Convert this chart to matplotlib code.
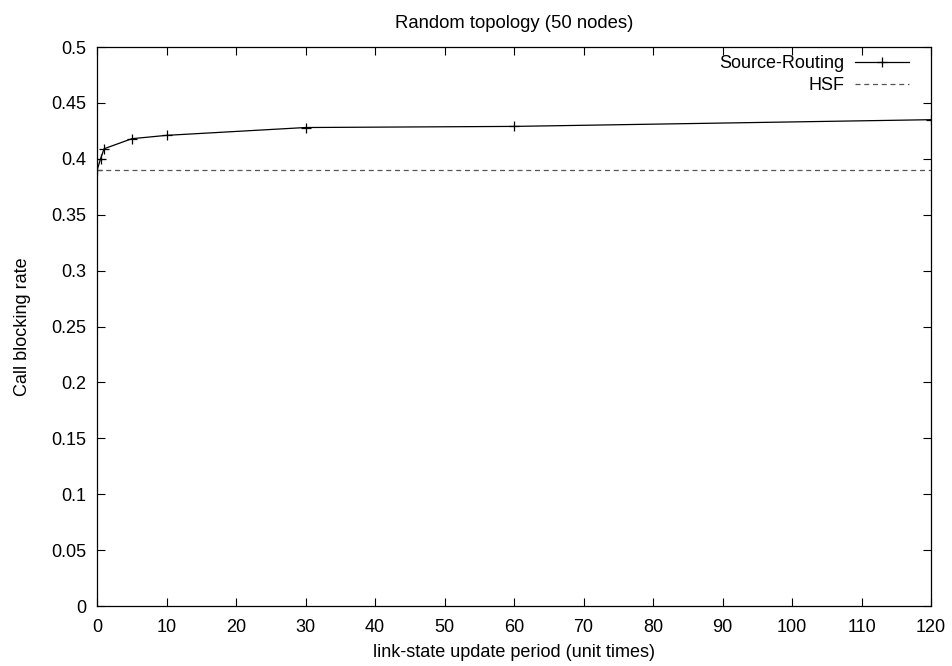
import matplotlib
matplotlib.use('Agg')
import matplotlib.pyplot as plt

plt.rcParams['font.family'] = ['Liberation Sans', 'DejaVu Sans']
plt.rcParams['font.size'] = 13

# link-state update period vs blocking rate
periods = [0, 0.5, 1, 5, 10, 30, 60, 120]
source_routing = [0.390, 0.400, 0.409, 0.418, 0.421, 0.428, 0.429, 0.435]
hsf_rate = 0.390

fig = plt.figure(figsize=(9.52, 6.66), dpi=100)
ax = fig.add_axes([0.102, 0.09, 0.876, 0.8394])

ax.plot(periods, source_routing, color='black', linewidth=0.9, marker='+',
        markersize=7, markeredgewidth=0.9, label='Source-Routing')
ax.axhline(hsf_rate, color='#555555', linewidth=0.9, linestyle=(0, (4, 3)), label='HSF')

ax.set_xlim(0, 120)
ax.set_ylim(0, 0.5)
ax.set_xticks(range(0, 121, 10))
ax.set_yticks([i * 0.05 for i in range(11)])
ax.set_yticklabels(['0', '0.05', '0.1', '0.15', '0.2', '0.25', '0.3', '0.35', '0.4', '0.45', '0.5'])
ax.tick_params(direction='in', top=True, right=True, length=6, width=0.8)
ax.tick_params(axis='x', pad=9)
ax.tick_params(axis='y', pad=8)
for s in ax.spines.values():
    s.set_linewidth(0.9)

ax.set_title('Random topology (50 nodes)', fontsize=13.3, pad=13.5)
ax.set_xlabel('link-state update period (unit times)', labelpad=6)
ax.set_ylabel('Call blocking rate', labelpad=14)

ax.legend(loc='upper right', bbox_to_anchor=(0.9736, 0.985), frameon=False,
          markerfirst=False, handlelength=3.0, borderaxespad=0, borderpad=0,
          labelspacing=0.25, handletextpad=0.6)

fig.savefig('out.png', dpi=100)
